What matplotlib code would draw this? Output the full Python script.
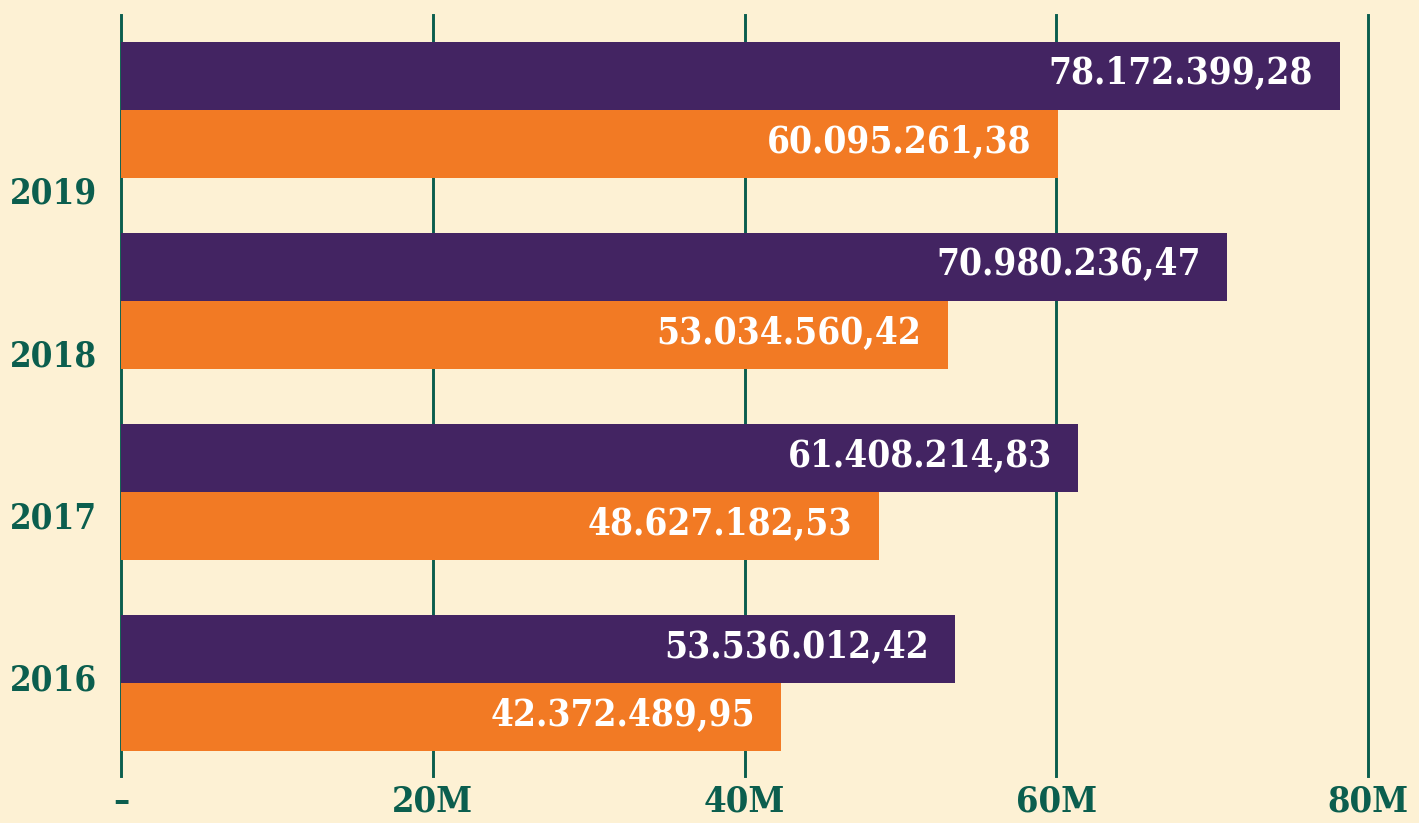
import numpy as np
import matplotlib.pyplot as plt

# values per year (purple = first series, orange = second series)
years = ["2016", "2017", "2018", "2019"]
purple_vals = [53536012.42, 61408214.83, 70980236.47, 78172399.28]
orange_vals = [42372489.95, 48627182.53, 53034560.42, 60095261.38]
x_ticks = [0, 20e6, 40e6, 60e6, 80e6]
x_labels = ["–", "20M", "40M", "60M", "80M"]

bg = "#fdf1d4"
purple = "#432462"
orange = "#f27a24"
green = "#0b5e4e"


def fmt(v):
    # 78172399.28 -> 78.172.399,28
    s = f"{v:,.2f}"
    return s.replace(",", "X").replace(".", ",").replace("X", ".")


fig = plt.figure(figsize=(14.19, 8.23), dpi=100, facecolor=bg)
ax = fig.add_axes([121 / 1419, 47 / 823, 1247 / 1419, 761 / 823])
ax.set_facecolor(bg)

pos = np.arange(len(years))
h = 0.357
ax.barh(pos + h / 2, purple_vals, height=h, color=purple, zorder=3)
ax.barh(pos - h / 2, orange_vals, height=h, color=orange, zorder=3)

lbl = dict(textcoords="offset points", ha="right", va="center", color="white",
           fontsize=26.5, family="DejaVu Serif", fontstretch="condensed",
           fontweight="bold", zorder=4)
for p, v in zip(pos, purple_vals):
    ax.annotate(fmt(v), (v, p + h / 2), xytext=(-19, 1), **lbl)
for p, v in zip(pos, orange_vals):
    ax.annotate(fmt(v), (v, p - h / 2), xytext=(-19, 1), **lbl)

ax.set_xlim(0, 80e6)
ax.set_ylim(-0.487, 3.497)

for xt in x_ticks:
    ax.axvline(xt, color=green, lw=2.1, zorder=1, clip_on=False)

ax.set_xticks(x_ticks)
ax.set_xticklabels(x_labels, family="DejaVu Serif", fontstretch="condensed",
                   fontweight="bold", fontsize=26, color=green)
# year labels sit on their own even spacing, not on the bar groups
ax.set_yticks(pos * 0.85 + 0.03)
ax.set_yticklabels(years, family="DejaVu Serif", fontstretch="condensed",
                   fontweight="bold", fontsize=25, color=green)
ax.tick_params(axis="x", length=0, pad=6)
ax.tick_params(axis="y", length=0, pad=17)

for s in ax.spines.values():
    s.set_visible(False)

fig.savefig("out.png", dpi=100, facecolor=bg)
